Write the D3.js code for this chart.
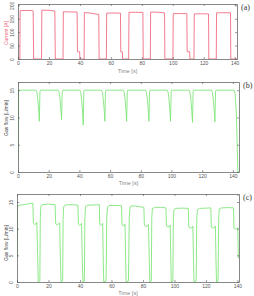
<!DOCTYPE html>
<html><head><meta charset="utf-8">
<script src="https://cdn.jsdelivr.net/npm/d3@7"></script>
<style>html,body{margin:0;padding:0;background:#fff;}svg{display:block;}</style>
</head><body>
<script>
// ---------- DATA ----------
const xTicks = [0, 20, 40, 60, 80, 100, 120, 140];
const currentTicks = [0, 50, 100, 150, 200];
const flowTicks = [0, 5, 10, 15];

// (a) welding current [A] : [time s, value]
const currentSeries = [
  [0,0],[1.2,0],[1.4,180],[5,181],[9.6,180.5],[9.8,178],[10.1,0],
  [15.2,0],[15.4,182],[20,181.5],[23.8,179],[24.1,0],
  [29.1,0],[29.3,176],[34,175.5],[38.2,175],[38.4,27],[39.8,27],[40,0],
  [42.7,0],[42.9,173],[47,171],[52.2,166],[52.4,0],
  [57.1,0],[57.3,171],[62,171.5],[66.2,171],[66.4,27],[67.4,27],[67.6,0],
  [71.5,0],[71.7,174],[76,174],[80.7,173.5],[80.9,0],
  [85.5,0],[85.7,175],[90,174.5],[94.7,172],[94.9,0],
  [100.1,0],[100.3,169],[105,169.5],[109.1,169],[109.3,27],[110.9,27],[111.1,0],
  [113.7,0],[113.9,168],[118,168.5],[123.1,168],[123.3,0],
  [128.1,0],[128.3,172],[133,172.5],[137.3,172],[137.5,0],[142,0]
];

// (b) gas flow set [L/min]
const flowSetSeries = [
  [0,2.5],[0.3,14.6],[0.6,15],
  [11.7,15],[12.3,14.6],[12.9,13.3],[13.5,11.2],[13.9,9.3],[14.3,14.7],[14.6,15],
  [26.2,15],[26.8,14.6],[27.4,13.3],[28.0,11.3],[28.4,9.6],[28.8,14.7],[29.1,15],
  [40.3,15],[40.9,14.6],[41.5,13.1],[42.1,10.8],[42.5,8.6],[42.9,14.7],[43.2,15],
  [54.4,15],[55.0,14.6],[55.6,13.3],[56.2,11.2],[56.6,9.3],[57.0,14.7],[57.3,15],
  [68.6,15],[69.2,14.6],[69.8,13.3],[70.4,11.2],[70.8,9.3],[71.2,14.7],[71.5,15],
  [83.1,15],[83.7,14.6],[84.3,13.3],[84.9,11.2],[85.3,9.3],[85.7,14.7],[86.0,15],
  [97.2,15],[97.8,14.6],[98.4,13.3],[99.0,11.2],[99.4,9.3],[99.8,14.7],[100.1,15],
  [111.5,15],[112.1,14.6],[112.7,13.2],[113.3,11.0],[113.7,9.1],[114.1,14.7],[114.4,15],
  [126.1,15],[126.7,14.6],[127.3,13.2],[127.9,11.1],[128.3,9.2],[128.7,14.7],[129.0,15],
  [140.8,15],[141.5,14.3],[142.2,11],[142.8,5],[143.3,0],[144,0]
];

// (c) measured gas flow [L/min]
const flowMeasSeries = [
  [0,4.6],[0.2,13.6],[0.6,14.3],[2,14.4],[4,14.5],[6,14.6],[8,14.7],[10.1,14.8],
  [10.4,11.0],[11.2,10.8],[12.0,10.9],[12.6,11.2],[13.1,5],[13.5,0],[14.5,0.2],[14.8,12],[15.2,14.2],[16,14.5],[20,14.6],[24.2,14.5],
  [24.6,10.9],[25.6,10.7],[26.5,10.9],[27.1,11.1],[27.6,4],[28.0,0],[29.0,0.2],[29.3,12],[29.7,14.2],[31,14.45],[35,14.5],[38.7,14.4],
  [39.0,10.8],[39.8,10.6],[40.5,10.8],[41.0,11.0],[41.5,4],[41.9,0],[42.8,0.2],[43.1,12],[43.5,14.2],[45,14.4],[49,14.45],[52.3,14.5],
  [52.6,10.8],[53.4,10.6],[54.0,10.8],[54.4,11.0],[54.8,4],[55.1,0],[56.6,0.2],[57.0,12],[57.5,14.1],[59,14.35],[63,14.35],[66.4,14.3],
  [66.7,10.7],[67.6,10.5],[68.2,10.7],[68.6,10.9],[69.0,4],[69.3,0],[70.8,0.2],[71.3,12],[71.8,14.1],[73,14.3],[77,14.15],[80.6,14.0],
  [80.9,10.6],[82.0,10.4],[82.9,10.5],[83.5,10.8],[84.0,4],[84.4,0],[85.3,0.2],[85.6,12],[86.0,13.8],[88,14.0],[91,14.0],[94.6,13.9],
  [94.9,10.5],[95.9,10.3],[96.8,10.4],[97.3,10.7],[97.7,4],[98.0,0],[99.0,0.2],[99.3,12],[99.7,13.6],[101,13.8],[105,13.85],[108.8,13.8],
  [109.1,10.3],[110.2,10.1],[111.1,10.2],[111.7,10.5],[112.1,4],[112.4,0],[113.8,0.2],[114.2,12],[114.6,13.6],[116,13.8],[120,13.85],[123.1,13.9],
  [123.4,10.3],[124.4,10.1],[125.4,10.2],[126.0,10.5],[126.4,4],[126.7,0],[127.7,0.2],[128.1,12],[128.5,13.7],[130,13.9],[134,13.95],[137.5,13.9],
  [137.8,10.1],[138.7,9.9],[139.6,10.0],[140.2,10.2],[140.6,4.5],[141,4.4]
];

// ---------- DRAW ----------
const W = 254, H = 296;
const svg = d3.select("body").append("svg").attr("width", W).attr("height", H);
const FONT = "'Liberation Sans', Arial, sans-serif";
const AX = "#555";

function panel(cfg) {
  const x = d3.scaleLinear().domain(cfg.xd).range([cfg.x0, cfg.x1]);
  const y = d3.scaleLinear().domain(cfg.yd).range([cfg.y1, cfg.y0]);
  const g = svg.append("g");
  const cid = "clip" + cfg.id;
  svg.append("clipPath").attr("id", cid).append("rect")
    .attr("x", cfg.x0).attr("y", cfg.y0).attr("width", cfg.x1 - cfg.x0).attr("height", cfg.y1 - cfg.y0);

  g.append("path").datum(cfg.data)
    .attr("clip-path", `url(#${cid})`)
    .attr("fill", "none").attr("stroke", cfg.color).attr("stroke-width", 0.85)
    .attr("stroke-linejoin", "round")
    .attr("d", d3.line().x(d => x(d[0])).y(d => y(d[1])));

  const tk = 2;
  const xb = g.append("g").attr("transform", `translate(0,${cfg.y1})`)
    .call(d3.axisBottom(x).tickValues(xTicks).tickSizeInner(-tk).tickSizeOuter(0).tickPadding(3));
  const xt = g.append("g").attr("transform", `translate(0,${cfg.y0})`)
    .call(d3.axisTop(x).tickValues(xTicks).tickSizeInner(-tk).tickSizeOuter(0).tickFormat(""));
  const yl = g.append("g").attr("transform", `translate(${cfg.x0},0)`)
    .call(d3.axisLeft(y).tickValues(cfg.yt).tickSizeInner(-tk).tickSizeOuter(0).tickPadding(3));
  const yr = g.append("g").attr("transform", `translate(${cfg.x1},0)`)
    .call(d3.axisRight(y).tickValues(cfg.yt).tickSizeInner(-tk).tickSizeOuter(0).tickFormat(""));
  [xb, xt, yl, yr].forEach(a => {
    a.select(".domain").attr("stroke", AX).attr("stroke-width", 0.7);
    a.selectAll(".tick line").attr("stroke", AX).attr("stroke-width", 0.6);
    a.selectAll("text").attr("font-family", FONT).attr("font-size", 5).attr("fill", "#555");
  });
  yl.selectAll(".tick text")
    .attr("x", null).attr("dy", null)
    .attr("text-anchor", "middle")
    .attr("transform", `translate(${-4},0) rotate(-90)`);
  xb.selectAll(".tick text").attr("dy", "0.65em");

  svg.append("text").attr("x", (cfg.x0 + cfg.x1) / 2).attr("y", cfg.y1 + cfg.tdy)
    .attr("text-anchor", "middle").attr("font-family", FONT).attr("font-size", 5.5)
    .attr("fill", "#888").text("Time [s]");
  svg.append("text")
    .attr("transform", `translate(7.5,${cfg.ylc}) rotate(-90)`)
    .attr("text-anchor", "middle").attr("font-family", FONT).attr("font-size", 5)
    .attr("fill", cfg.ylColor).text(cfg.ylab);
  svg.append("text").attr("x", cfg.x1 + 4).attr("y", cfg.y0 + 6)
    .attr("font-family", "'Liberation Serif', serif").attr("font-size", 8)
    .attr("fill", "#333").text(cfg.tag);
}

panel({id: "a", x0: 18, x1: 237, y0: 4, y1: 59, xd: [0, 141.5], yd: [0, 205],
  yt: currentTicks, data: currentSeries, color: "#f2647c",
  ylab: "Current [A]", ylColor: "#ec6a7e", ylc: 33, tdy: 14, tag: "(a)"});
panel({id: "b", x0: 18, x1: 239, y0: 82, y1: 172, xd: [0, 144], yd: [0, 16.5],
  yt: flowTicks, data: flowSetSeries, color: "#7ae472",
  ylab: "Gas flow [L/min]", ylColor: "#444", ylc: 118, tdy: 13, tag: "(b)"});
panel({id: "c", x0: 17, x1: 239, y0: 194, y1: 282, xd: [0, 141], yd: [0, 16.5],
  yt: flowTicks, data: flowMeasSeries, color: "#7ae472",
  ylab: "Gas flow [L/min]", ylColor: "#444", ylc: 243, tdy: 13, tag: "(c)"});
</script>
</body></html>
